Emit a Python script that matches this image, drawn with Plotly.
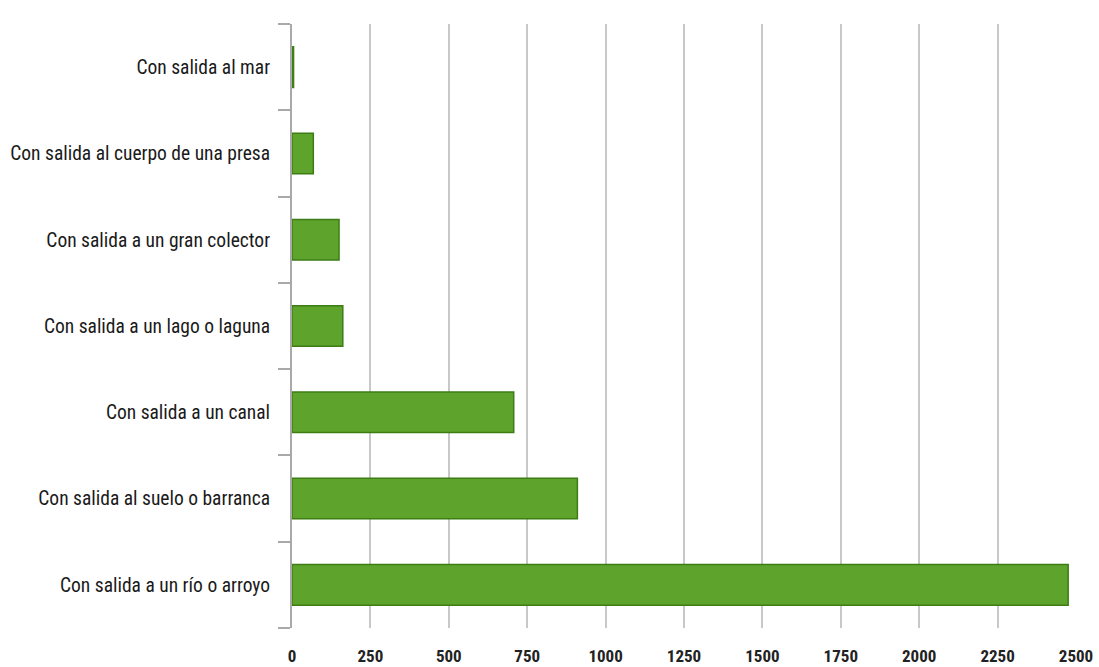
import plotly.graph_objects as go

# categories, bottom to top as drawn
categorias = [
    "Con salida a un río o arroyo",
    "Con salida al suelo o barranca",
    "Con salida a un canal",
    "Con salida a un lago o laguna",
    "Con salida a un gran colector",
    "Con salida al cuerpo de una presa",
    "Con salida al mar",
]
valores = [2475, 910, 707, 162, 150, 68, 5]
x_ticks = [0, 250, 500, 750, 1000, 1250, 1500, 1750, 2000, 2250, 2500]

fig = go.Figure()
fig.add_trace(go.Bar(
    x=valores, y=categorias, orientation='h',
    marker=dict(color='#5ea42c', line=dict(color='#3d7d14', width=1.5)),
    width=0.47, hoverinfo='x+y', showlegend=False))

font_lbl = "Liberation Sans Narrow, Roboto Condensed, Arial Narrow, DejaVu Sans Condensed, sans-serif"

fig.update_layout(
    width=1099, height=667, autosize=False,
    margin=dict(l=292, r=23, t=24, b=39),
    plot_bgcolor='white', paper_bgcolor='white',
)
fig.update_xaxes(
    range=[0, 2500], tickvals=x_ticks, ticktext=[str(v) for v in x_ticks],
    showgrid=True, gridcolor='#c8c8c8', gridwidth=1.5, zeroline=False,
    showline=False, ticks='', ticklabelstandoff=16, automargin=False,
    tickfont=dict(family=font_lbl, size=17, color='#222222', weight='bold'))
fig.update_yaxes(
    categoryorder='array', categoryarray=categorias,
    showline=True, linecolor='#a9a9a9', linewidth=2,
    ticks='outside', tickson='boundaries', ticklen=12, tickcolor='#a9a9a9', tickwidth=1.5,
    showgrid=False, zeroline=False, ticklabelstandoff=16, automargin=False,
    tickfont=dict(family=font_lbl, size=19.5, color='#1a1a1a'))

fig.write_html("out.html", config={'displayModeBar': False},
               post_script="document.body.style.margin='0';")
